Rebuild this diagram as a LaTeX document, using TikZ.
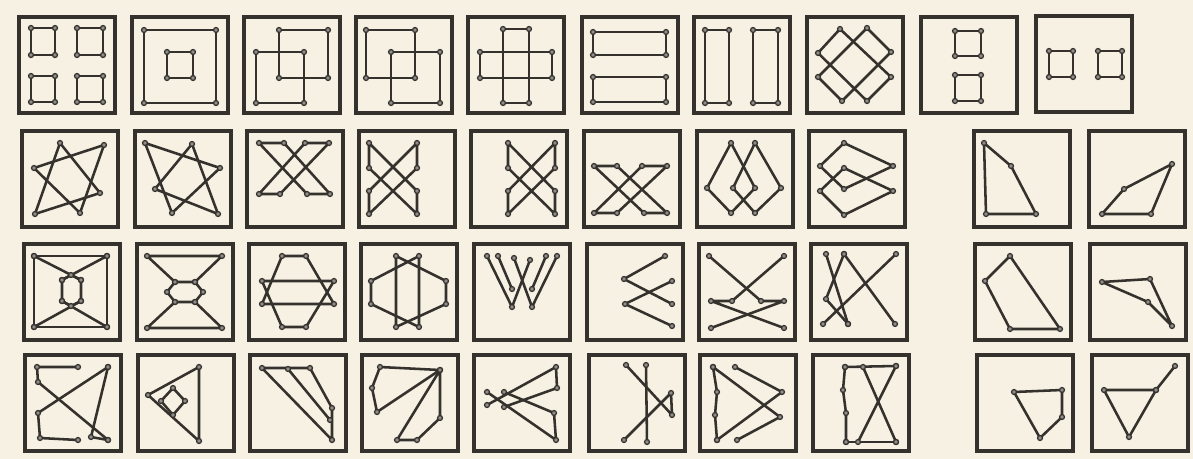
\documentclass[tikz,border=0pt]{standalone}
\definecolor{paper}{HTML}{F6F1E3}
\definecolor{ink}{HTML}{35312D}
\tikzset{
  cellframe/.style={draw=ink, line width=1.9pt},
  figline/.style={draw=ink, line width=1.45pt, line join=round, mark=*, mark size=1.4pt,
                  mark options={fill=ink!55, draw=ink, line width=0.7pt}}
}
\newcommand{\rectfig}[4]{\draw[figline] plot coordinates {(#1,#2) (#3,#2) (#3,#4) (#1,#4)} -- cycle;}

\begin{document}
\begin{tikzpicture}[x=0.02cm, y=-0.02cm]
  \fill[paper] (0,0) rectangle (1193,459);
  \useasboundingbox (0,0) rectangle (1193,459);

  % row 1
  \begin{scope}[shift={(19,17)}]
    \draw[cellframe] (0,0) rectangle (96,96);
    \rectfig{12}{11}{36}{38} \rectfig{58}{11}{84}{38}
    \rectfig{12}{59}{36}{85} \rectfig{58}{59}{84}{85}
  \end{scope}
  \begin{scope}[shift={(132,17)}]
    \draw[cellframe] (0,0) rectangle (96,96);
    \rectfig{12}{13}{84}{86} \rectfig{35}{35}{61}{61}
  \end{scope}
  \begin{scope}[shift={(244,17)}]
    \draw[cellframe] (0,0) rectangle (96,96);
    \rectfig{35}{13}{84}{61} \rectfig{12}{35}{60}{86}
  \end{scope}
  \begin{scope}[shift={(356,17)}]
    \draw[cellframe] (0,0) rectangle (96,96);
    \rectfig{10}{13}{59}{61} \rectfig{35}{35}{84}{86}
  \end{scope}
  \begin{scope}[shift={(468,17)}]
    \draw[cellframe] (0,0) rectangle (96,96);
    \rectfig{35}{12}{61}{86} \rectfig{12}{35}{84}{61}
  \end{scope}
  \begin{scope}[shift={(582,17)}]
    \draw[cellframe] (0,0) rectangle (96,96);
    \rectfig{11}{15}{84}{38} \rectfig{11}{60}{84}{85}
  \end{scope}
  \begin{scope}[shift={(694,17)}]
    \draw[cellframe] (0,0) rectangle (96,96);
    \rectfig{11}{13}{35}{86} \rectfig{59}{13}{84}{86}
  \end{scope}
  \begin{scope}[shift={(807,17)}]
    \draw[cellframe] (0,0) rectangle (96,96);
    \draw[figline] plot coordinates {(33,12) (84,60) (60,84) (11,36)} -- cycle;
    \draw[figline] plot coordinates {(60,11) (84,35) (35,84) (11,60)} -- cycle;
  \end{scope}
  \begin{scope}[shift={(921,17)}]
    \draw[cellframe] (0,0) rectangle (96,96);
    \rectfig{34}{14}{60}{39} \rectfig{34}{58}{60}{84}
  \end{scope}
  \begin{scope}[shift={(1036,16)}]
    \draw[cellframe] (0,0) rectangle (96,96);
    \rectfig{13}{35}{37}{61} \rectfig{62}{35}{86}{61}
  \end{scope}

  % row 2
  \begin{scope}[shift={(22,131)}]
    \draw[cellframe] (0,0) rectangle (96,96);
    \draw[figline] plot coordinates {(38,12) (78,62) (13,83)} -- cycle;
    \draw[figline] plot coordinates {(82,14) (12,37) (58,82)} -- cycle;
  \end{scope}
  \begin{scope}[shift={(135,131)}]
    \draw[cellframe] (0,0) rectangle (96,96);
    \draw[figline] plot coordinates {(10,12) (85,37) (37,82)} -- cycle;
    \draw[figline] plot coordinates {(57,13) (20,58) (83,83)} -- cycle;
  \end{scope}
  \begin{scope}[shift={(247,131)}]
    \draw[cellframe] (0,0) rectangle (96,96);
    \draw[figline] plot coordinates {(12,12) (37,12) (83,63) (60,63)} -- cycle;
    \draw[figline] plot coordinates {(58,12) (82,12) (33,63) (12,63)} -- cycle;
  \end{scope}
  \begin{scope}[shift={(359,131)}]
    \draw[cellframe] (0,0) rectangle (96,96);
    \draw[figline] plot coordinates {(10,12) (58,60) (58,83) (10,37)} -- cycle;
    \draw[figline] plot coordinates {(58,12) (10,60) (10,83) (58,37)} -- cycle;
  \end{scope}
  \begin{scope}[shift={(471,131)}]
    \draw[cellframe] (0,0) rectangle (96,96);
    \draw[figline] plot coordinates {(37,12) (84,60) (84,83) (37,37)} -- cycle;
    \draw[figline] plot coordinates {(84,12) (37,60) (37,83) (84,37)} -- cycle;
  \end{scope}
  \begin{scope}[shift={(584,131)}]
    \draw[cellframe] (0,0) rectangle (96,96);
    \draw[figline] plot coordinates {(10,35) (33,35) (83,82) (60,82)} -- cycle;
    \draw[figline] plot coordinates {(58,35) (83,35) (33,82) (10,82)} -- cycle;
  \end{scope}
  \begin{scope}[shift={(697,131)}]
    \draw[cellframe] (0,0) rectangle (96,96);
    \draw[figline] plot coordinates {(34,12) (10,57) (34,82) (58,57)} -- cycle;
    \draw[figline] plot coordinates {(58,12) (84,57) (58,82) (36,57)} -- cycle;
  \end{scope}
  \begin{scope}[shift={(809,131)}]
    \draw[cellframe] (0,0) rectangle (96,96);
    \draw[figline] plot coordinates {(84,35) (35,12) (11,35) (35,58)} -- cycle;
    \draw[figline] plot coordinates {(84,60) (35,84) (11,60) (35,37)} -- cycle;
  \end{scope}
  \begin{scope}[shift={(974,131)}]
    \draw[cellframe] (0,0) rectangle (96,96);
    \draw[figline] plot coordinates {(10,12) (37,35) (62,83) (12,83)} -- cycle;
  \end{scope}
  \begin{scope}[shift={(1089,131)}]
    \draw[cellframe] (0,0) rectangle (96,96);
    \draw[figline] plot coordinates {(13,83) (35,58) (83,33) (62,83)} -- cycle;
  \end{scope}

  % row 3
  \begin{scope}[shift={(24,244)}]
    \draw[cellframe] (0,0) rectangle (96,96);
    \rectfig{10}{12}{83}{83}
    \draw[figline] plot coordinates {(10,12) (57,36)};
    \draw[figline] plot coordinates {(83,12) (38,36)};
    \draw[figline] plot coordinates {(10,83) (57,57)};
    \draw[figline] plot coordinates {(83,83) (38,57)};
    \draw[figline] plot coordinates {(38,36) (47,31) (57,36) (57,57) (47,62) (38,57)} -- cycle;
  \end{scope}
  \begin{scope}[shift={(137,244)}]
    \draw[cellframe] (0,0) rectangle (96,96);
    \draw[figline] plot coordinates {(38,38) (10,12) (85,12) (58,38)};
    \draw[figline] plot coordinates {(38,58) (10,84) (85,84) (58,58)};
    \draw[figline] plot coordinates {(30,48) (38,38) (58,38) (66,48) (58,58) (38,58)} -- cycle;
  \end{scope}
  \begin{scope}[shift={(249,244)}]
    \draw[cellframe] (0,0) rectangle (96,96);
    \draw[figline] plot coordinates {(33,12) (57,12) (85,60) (13,60)} -- cycle;
    \draw[figline] plot coordinates {(13,37) (85,37) (57,83) (33,83)} -- cycle;
  \end{scope}
  \begin{scope}[shift={(361,244)}]
    \draw[cellframe] (0,0) rectangle (96,96);
    \draw[figline] plot coordinates {(10,37) (58,12) (58,83) (10,60)} -- cycle;
    \draw[figline] plot coordinates {(85,37) (35,12) (35,83) (85,60)} -- cycle;
  \end{scope}
  \begin{scope}[shift={(474,244)}]
    \draw[cellframe] (0,0) rectangle (96,96);
    \draw[figline] plot coordinates {(13,12) (38,63) (56,16)};
    \draw[figline] plot coordinates {(40,14) (58,63) (83,12)};
    \draw[figline] plot coordinates {(24,12) (38,45)};
    \draw[figline] plot coordinates {(72,12) (58,45)};
  \end{scope}
  \begin{scope}[shift={(587,244)}]
    \draw[cellframe] (0,0) rectangle (96,96);
    \draw[figline] plot coordinates {(78,12) (37,35) (85,60)};
    \draw[figline] plot coordinates {(85,37) (38,60) (85,82)};
  \end{scope}
  \begin{scope}[shift={(699,244)}]
    \draw[cellframe] (0,0) rectangle (96,96);
    \draw[figline] plot coordinates {(10,12) (62,57) (85,57) (12,84)};
    \draw[figline] plot coordinates {(85,12) (33,57) (12,57) (85,84)};
  \end{scope}
  \begin{scope}[shift={(811,244)}]
    \draw[cellframe] (0,0) rectangle (96,96);
    \draw[figline] plot coordinates {(15,10) (37,80)};
    \draw[figline] plot coordinates {(33,10) (84,80)};
    \draw[figline] plot coordinates {(85,10) (12,80)};
    \draw[figline] plot coordinates {(33,10) (15,55) (37,80)};
  \end{scope}
  \begin{scope}[shift={(975,244)}]
    \draw[cellframe] (0,0) rectangle (96,96);
    \draw[figline] plot coordinates {(35,12) (10,37) (35,85) (85,85)} -- cycle;
  \end{scope}
  \begin{scope}[shift={(1090,244)}]
    \draw[cellframe] (0,0) rectangle (96,96);
    \draw[figline] plot coordinates {(12,38) (60,35) (82,82) (58,58)} -- cycle;
  \end{scope}

  % row 4
  \begin{scope}[shift={(25,355)}]
    \draw[cellframe] (0,0) rectangle (96,96);
    \draw[figline] plot coordinates {(53,12) (12,12) (13,27) (83,85)};
    \draw[figline] plot coordinates {(83,12) (13,58) (15,83) (53,85)};
    \draw[figline] plot coordinates {(83,12) (66,82) (83,85)};
  \end{scope}
  \begin{scope}[shift={(138,355)}]
    \draw[cellframe] (0,0) rectangle (96,96);
    \draw[figline] plot coordinates {(61,12) (10,40) (61,86)} -- cycle;
    \draw[figline] plot coordinates {(35,33) (47,46) (35,60) (23,46)} -- cycle;
  \end{scope}
  \begin{scope}[shift={(250,355)}]
    \draw[cellframe] (0,0) rectangle (96,96);
    \draw[figline] plot coordinates {(12,13) (60,13) (82,53) (82,85)} -- cycle;
    \draw[figline] plot coordinates {(38,14) (80,65)};
  \end{scope}
  \begin{scope}[shift={(362,355)}]
    \draw[cellframe] (0,0) rectangle (96,96);
    \draw[figline] plot coordinates {(15,57) (10,33) (18,12) (78,15)} -- cycle;
    \draw[figline] plot coordinates {(78,15) (35,85) (55,85) (78,63)} -- cycle;
  \end{scope}
  \begin{scope}[shift={(474,355)}]
    \draw[cellframe] (0,0) rectangle (96,96);
    \draw[figline] plot coordinates {(13,50) (82,12) (83,33) (30,52)};
    \draw[figline] plot coordinates {(13,37) (82,85) (80,58) (30,37)};
  \end{scope}
  \begin{scope}[shift={(589,355)}]
    \draw[cellframe] (0,0) rectangle (96,96);
    \draw[figline] plot coordinates {(37,10) (83,60) (82,38) (35,85)};
    \draw[figline] plot coordinates {(57,10) (58,87)};
  \end{scope}
  \begin{scope}[shift={(700,355)}]
    \draw[cellframe] (0,0) rectangle (96,96);
    \draw[figline] plot coordinates {(35,12) (82,37) (17,85)};
    \draw[figline] plot coordinates {(13,12) (80,62) (37,85)};
    \draw[figline] plot coordinates {(13,12) (17,37) (15,60) (17,85)};
  \end{scope}
  \begin{scope}[shift={(813,355)}]
    \draw[cellframe] (0,0) rectangle (96,96);
    \draw[figline] plot coordinates {(32,12) (83,11)};
    \draw[figline] plot coordinates {(33,87) (83,87)};
    \draw[figline] plot coordinates {(32,12) (30,35) (33,58) (33,87)};
    \draw[figline] plot coordinates {(50,12) (83,87)};
    \draw[figline] plot coordinates {(83,11) (45,87)};
  \end{scope}
  \begin{scope}[shift={(977,355)}]
    \draw[cellframe] (0,0) rectangle (96,96);
    \draw[figline] plot coordinates {(37,37) (85,35) (85,62) (63,83)} -- cycle;
  \end{scope}
  \begin{scope}[shift={(1092,355)}]
    \draw[cellframe] (0,0) rectangle (96,96);
    \draw[figline] plot coordinates {(12,35) (64,35) (37,82)} -- cycle;
    \draw[figline] plot coordinates {(64,35) (83,11)};
  \end{scope}
\end{tikzpicture}
\end{document}
